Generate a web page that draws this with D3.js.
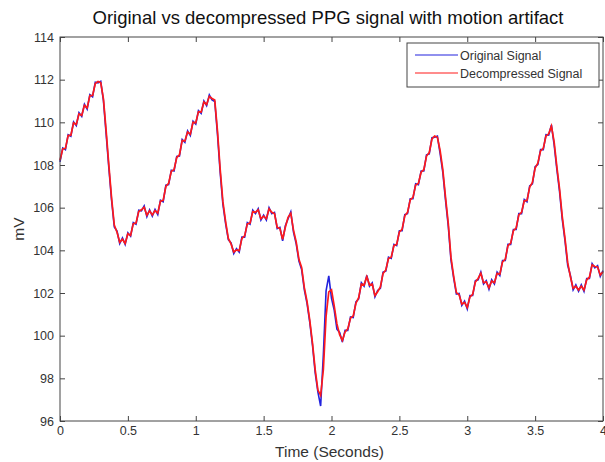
<!DOCTYPE html>
<html>
<head>
<meta charset="utf-8">
<script src="https://cdn.jsdelivr.net/npm/d3@7"></script>
<style>
  body { margin: 0; background: #fff; }
  svg { display: block; font-family: "Liberation Sans", Arial, sans-serif; }
</style>
</head>
<body>
<div id="chart"></div>
<script>
// time axis: one sample every 0.02 s, 0 .. 4 s
var tStart = 0, tStep = 0.02;

var original = [
  108.15, 108.80, 108.72, 109.42, 109.35, 110.02, 109.85, 110.45, 110.28, 110.85,
  110.62, 111.30, 111.20, 111.88, 111.85, 111.92, 111.02, 109.45, 107.85, 106.35,
  105.10, 104.90, 104.32, 104.58, 104.28, 104.82, 104.66, 105.30, 105.22, 105.88,
  105.85, 106.08, 105.58, 105.90, 105.60, 105.92, 105.68, 106.35, 106.28, 107.05,
  107.08, 107.75, 107.72, 108.40, 108.42, 109.20, 109.06, 109.60, 109.38, 110.05,
  109.92, 110.55, 110.42, 111.00, 110.78, 111.28, 111.05, 110.98, 109.45, 107.65,
  106.15, 105.25, 104.50, 104.35, 103.85, 104.08, 103.92, 104.62, 104.62, 105.30,
  105.22, 105.88, 105.72, 105.95, 105.42, 105.65, 105.42, 106.00, 105.72, 105.78,
  105.02, 105.08, 104.45, 105.15, 105.48, 105.80, 104.85, 104.30, 103.50, 103.10,
  102.15, 101.50, 100.62, 99.55, 98.25, 97.35, 96.70, 99.10, 102.10, 102.80,
  101.75, 101.20, 100.30, 100.15, 99.70, 100.25, 100.25, 100.88, 100.85, 101.58,
  101.72, 102.48, 102.32, 102.82, 102.32, 102.48, 101.82, 102.12, 102.22, 102.98,
  103.02, 103.68, 103.62, 104.28, 104.22, 104.92, 104.92, 105.68, 105.72, 106.42,
  106.42, 107.12, 107.08, 107.72, 107.72, 108.48, 108.52, 109.28, 109.30, 109.35,
  108.55, 107.65, 106.35, 105.15, 103.55, 102.70, 101.95, 101.98, 101.42, 101.62,
  101.25, 101.88, 101.88, 102.58, 102.62, 102.98, 102.42, 102.58, 102.18, 102.62,
  102.42, 102.98, 102.82, 103.52, 103.52, 104.28, 104.28, 104.98, 104.98, 105.72,
  105.72, 106.38, 106.28, 107.02, 107.12, 107.92, 108.02, 108.72, 108.72, 109.42,
  109.40, 109.88, 108.95, 107.80, 106.75, 105.45, 104.45, 103.30, 102.82, 102.15,
  102.38, 102.08, 102.38, 102.08, 102.68, 102.68, 103.38, 103.18, 103.28, 102.78,
  103.05
];

var decompressed = [
  108.22, 108.75, 108.78, 109.38, 109.40, 109.98, 109.90, 110.40, 110.32, 110.80,
  110.68, 111.25, 111.26, 111.82, 111.92, 111.86, 111.10, 109.60, 107.98, 106.45,
  105.18, 104.85, 104.38, 104.52, 104.32, 104.78, 104.70, 105.25, 105.28, 105.82,
  105.90, 106.02, 105.64, 105.85, 105.66, 105.86, 105.74, 106.30, 106.34, 107.00,
  107.14, 107.70, 107.78, 108.35, 108.48, 109.15, 109.12, 109.55, 109.44, 110.00,
  109.98, 110.50, 110.48, 110.95, 110.84, 111.22, 111.12, 111.05, 109.60, 107.80,
  106.28, 105.35, 104.56, 104.30, 103.92, 104.02, 103.98, 104.56, 104.68, 105.24,
  105.28, 105.82, 105.78, 105.90, 105.48, 105.60, 105.48, 105.94, 105.78, 105.72,
  105.08, 105.02, 104.52, 105.08, 105.55, 105.74, 104.95, 104.40, 103.58, 103.20,
  102.25, 101.60, 100.72, 99.65, 98.40, 97.45, 97.20, 98.40, 100.90, 102.05,
  102.15, 101.40, 100.55, 100.05, 99.78, 100.18, 100.32, 100.82, 100.92, 101.52,
  101.78, 102.42, 102.38, 102.76, 102.38, 102.42, 101.88, 102.06, 102.28, 102.92,
  103.08, 103.62, 103.68, 104.22, 104.28, 104.86, 104.98, 105.62, 105.78, 106.36,
  106.48, 107.06, 107.14, 107.66, 107.78, 108.42, 108.58, 109.22, 109.36, 109.30,
  108.68, 107.78, 106.48, 105.28, 103.68, 102.78, 102.02, 101.92, 101.48, 101.56,
  101.32, 101.82, 101.94, 102.52, 102.68, 102.92, 102.48, 102.52, 102.24, 102.56,
  102.48, 102.92, 102.88, 103.46, 103.58, 104.22, 104.34, 104.92, 105.04, 105.66,
  105.78, 106.32, 106.34, 106.96, 107.18, 107.86, 108.08, 108.66, 108.78, 109.36,
  109.46, 109.82, 109.08, 107.92, 106.88, 105.58, 104.56, 103.42, 102.76, 102.22,
  102.32, 102.14, 102.32, 102.14, 102.62, 102.74, 103.32, 103.24, 103.22, 102.84,
  103.00
];

var xTicks = [0, 0.5, 1, 1.5, 2, 2.5, 3, 3.5, 4];
var yTicks = [96, 98, 100, 102, 104, 106, 108, 110, 112, 114];
var seriesNames = ["Original Signal", "Decompressed Signal"];
var seriesColors = ["#2222dd", "#ff1a1a"];

var margin = { top: 37, right: 2, bottom: 41, left: 60 },
    width = 605 - margin.left - margin.right,
    height = 462 - margin.top - margin.bottom;

var x = d3.scaleLinear().domain([0, 4]).range([0, width]);
var y = d3.scaleLinear().domain([96, 114]).range([height, 0]);

var svg = d3.select("#chart").append("svg")
    .attr("width", 605)
    .attr("height", 462);

svg.append("rect").attr("width", 605).attr("height", 462).attr("fill", "#fff");

var g = svg.append("g")
    .attr("transform", "translate(" + margin.left + "," + margin.top + ")");

// the two traces, blue underneath red
var line = d3.line()
    .x(function (d, i) { return x(tStart + i * tStep); })
    .y(function (d) { return y(d); });

g.append("path")
    .datum(original)
    .attr("fill", "none")
    .attr("stroke", seriesColors[0])
    .attr("stroke-width", 1.6)
    .attr("d", line);

g.append("path")
    .datum(decompressed)
    .attr("fill", "none")
    .attr("stroke", seriesColors[1])
    .attr("stroke-width", 1.7)
    .attr("d", line);

// axes, MATLAB style: ticks point inside, mirrored on top and right
var axisColor = "#444";

function styleAxis(sel) {
    sel.select(".domain").remove();
    sel.selectAll(".tick line").attr("stroke", axisColor);
    sel.selectAll(".tick text")
        .attr("fill", "#333")
        .style("font-size", "12.5px");
}

g.append("g")
    .attr("transform", "translate(0," + height + ")")
    .call(d3.axisBottom(x).tickValues(xTicks).tickFormat(d3.format("")).tickSize(-5).tickPadding(5))
    .call(styleAxis);

g.append("g")
    .call(d3.axisTop(x).tickValues(xTicks).tickSize(-5).tickFormat(""))
    .call(styleAxis);

g.append("g")
    .call(d3.axisLeft(y).tickValues(yTicks).tickSize(-5).tickPadding(6))
    .call(styleAxis);

g.append("g")
    .attr("transform", "translate(" + width + ",0)")
    .call(d3.axisRight(y).tickValues(yTicks).tickSize(-5).tickFormat(""))
    .call(styleAxis);

g.append("rect")
    .attr("width", width)
    .attr("height", height)
    .attr("fill", "none")
    .attr("stroke", axisColor)
    .attr("stroke-width", 1);

// title and axis labels
svg.append("text")
    .attr("x", 328)
    .attr("y", 24)
    .attr("text-anchor", "middle")
    .attr("fill", "#111")
    .style("font-size", "18.5px")
    .text("Original vs decompressed PPG signal with motion artifact");

svg.append("text")
    .attr("x", margin.left + width / 2 - 2)
    .attr("y", 457)
    .attr("text-anchor", "middle")
    .attr("fill", "#333")
    .style("font-size", "15.5px")
    .text("Time (Seconds)");

svg.append("text")
    .attr("transform", "translate(24," + (margin.top + height / 2) + ") rotate(-90)")
    .attr("text-anchor", "middle")
    .attr("fill", "#333")
    .style("font-size", "15.5px")
    .text("mV");

// legend
var legend = svg.append("g").attr("transform", "translate(407,43)");

legend.append("rect")
    .attr("width", 192)
    .attr("height", 44)
    .attr("fill", "#fff")
    .attr("stroke", axisColor);

seriesNames.forEach(function (name, i) {
    var ly = 12 + i * 18;
    legend.append("line")
        .attr("x1", 8).attr("x2", 51)
        .attr("y1", ly).attr("y2", ly)
        .attr("stroke", seriesColors[i])
        .attr("stroke-width", 1.2);
    legend.append("text")
        .attr("x", 53)
        .attr("y", ly + 4.5)
        .attr("fill", "#333")
        .style("font-size", "12.5px")
        .text(name);
});
</script>
</body>
</html>
